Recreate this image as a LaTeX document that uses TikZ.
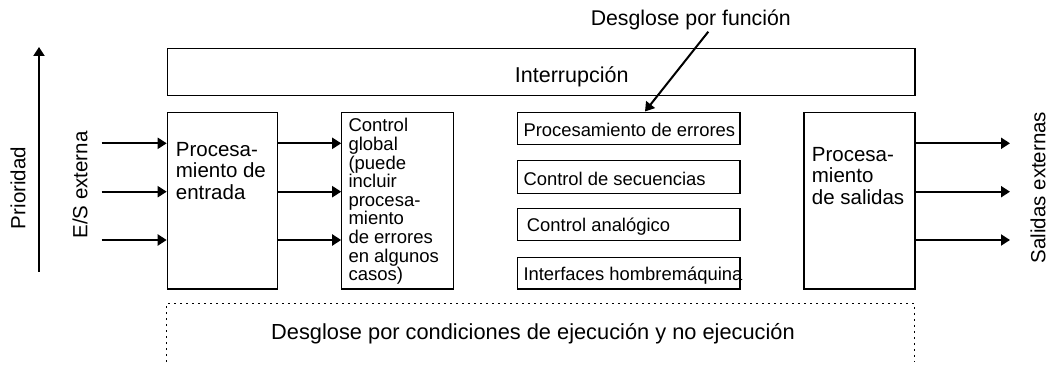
\documentclass[tikz,border=0pt]{standalone}
\usepackage{fontspec}
\setmainfont{Liberation Sans}
\usetikzlibrary{arrows.meta,calc}
\tikzset{
  box/.style={draw, line width=1.2pt, rectangle, inner sep=0pt, anchor=north west},
  arr/.style={line width=2pt, -{Triangle[length=9pt,width=11pt]}},
  bigtxt/.style={font=\fontsize{20.5}{21.5}\selectfont, inner sep=0pt},
  midtxt/.style={font=\fontsize{18.5}{18.6}\selectfont, inner sep=0pt},
  fntxt/.style={font=\fontsize{18.4}{20}\selectfont, inner sep=0pt, anchor=west},
  btxt/.style={align=left, anchor=north west}
}
\begin{document}
\begin{tikzpicture}[x=1pt,y=-1pt]
\useasboundingbox (0,0) rectangle (1052,366);
% boxes
\node[box, minimum width=747.6pt, minimum height=47.3pt] (intr) at (166.7,47.7) {};
\node[box, minimum width=110pt, minimum height=176.6pt] (inp) at (166.7,111.7) {};
\node[box, minimum width=111.5pt, minimum height=176.6pt] (ctl) at (341.2,111.7) {};
\node[box, minimum width=222.6pt, minimum height=31.7pt] (f1) at (516.7,112.3) {};
\node[box, minimum width=222.6pt, minimum height=32.7pt] (f2) at (516.7,160) {};
\node[box, minimum width=222.6pt, minimum height=31.7pt] (f3) at (516.7,208.3) {};
\node[box, minimum width=222.6pt, minimum height=31.6pt] (f4) at (516.7,256.7) {};
\node[box, minimum width=111pt, minimum height=176.6pt] (out) at (803.3,111.7) {};
% dotted open box
\draw[line width=1.2pt, dash pattern=on 2pt off 4pt] (166.7,362) -- (166.7,303.3) -- (914.3,303.3) -- (914.3,362);
% texts
\node[bigtxt, font=\fontsize{21.5}{22}\selectfont] (tintr) at (571.7,76.7) {Interrupción};
\node[bigtxt, btxt] (tinp) at (175.7,141.7) {Procesa-\\miento de\\entrada};
\node[midtxt, btxt] (tctl) at (348.3,118.3) {Control\\global\\(puede\\incluir\\procesa-\\miento\\de errores\\en algunos\\casos)};
\node[fntxt] (tf1) at ($(f1.west)+(6.6,1)$) {Procesamiento de errores};
\node[fntxt] (tf2) at ($(f2.west)+(6.6,2)$) {Control de secuencias};
\node[fntxt] (tf3) at ($(f3.west)+(10,2)$) {Control analógico};
\node[fntxt] (tf4) at ($(f4.west)+(6.6,2.5)$) {Interfaces hombremáquina};
\node[bigtxt, btxt] (tout) at (811.7,146.7) {Procesa-\\miento\\de salidas};
\node[bigtxt, font=\fontsize{21.3}{22}\selectfont] (tfunc) at (690.8,20) {Desglose por función};
\node[bigtxt, font=\fontsize{21.8}{22}\selectfont] (tcond) at (533,333.3) {Desglose por condiciones de ejecución y no ejecución};
\node[bigtxt, rotate=90] (tprio) at (18,188) {Prioridad};
\node[bigtxt, rotate=90] (tes) at (80,185) {E/S externa};
\node[bigtxt, rotate=90] (tsal) at (1038,187.5) {Salidas externas};
% priority arrow
\coordinate (p0) at (39,271.7);
\coordinate (p1) at (39,47);
\draw[arr] (p0) -- (p1);
% function arrow
\coordinate (fa) at (708.3,31.7);
\draw[arr] (fa) -- (645,111.5);
% input arrows
\coordinate (i1) at (101.7,143.3);
\coordinate (i2) at (101.7,191.7);
\coordinate (i3) at (101.7,240);
\foreach \c in {i1,i2,i3}{
  \draw[arr] (\c) -- (\c -| inp.west);
  \draw[arr] (\c -| inp.east) -- (\c -| ctl.west);
}
% output arrows
\coordinate (o1) at (1010,143.3);
\coordinate (o2) at (1010,191.7);
\coordinate (o3) at (1010,240);
\foreach \c in {o1,o2,o3}{
  \draw[arr] (\c -| out.east) -- (\c);
}
\end{tikzpicture}
\end{document}
